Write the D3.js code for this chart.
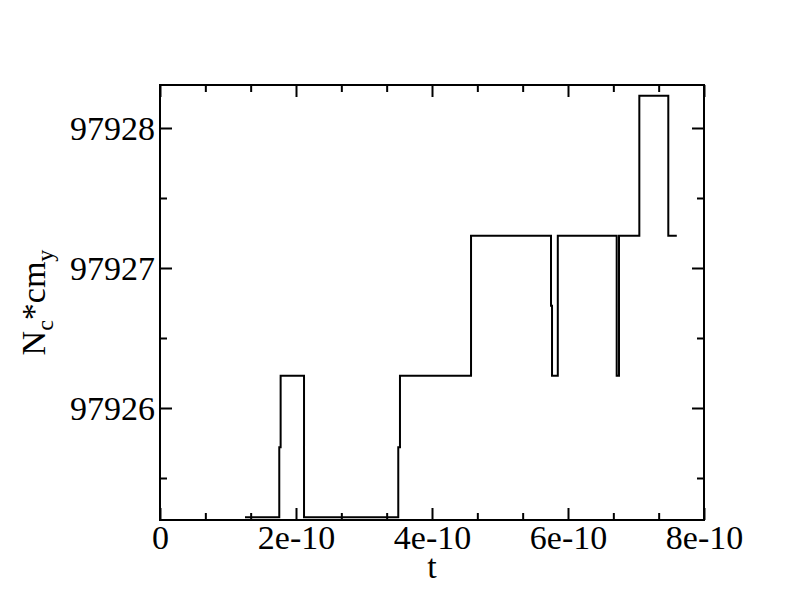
<!DOCTYPE html>
<html>
<head>
<meta charset="utf-8">
<script src="https://cdn.jsdelivr.net/npm/d3@7"></script>
<style>
  html, body { margin: 0; padding: 0; background: #fff; }
  svg { display: block; }
  svg text { font-family: "Liberation Serif", "Times New Roman", Times, serif; fill: #000; }
</style>
</head>
<body>
<script>
// ---- data ----
const tValues = [1.25e-10, 1.754e-10, 1.754e-10, 1.774e-10, 1.774e-10, 2.118e-10, 2.118e-10,
  3.504e-10, 3.504e-10, 3.529e-10, 3.529e-10, 4.574e-10, 4.574e-10, 5.75e-10, 5.75e-10,
  5.765e-10, 5.765e-10, 5.85e-10, 5.85e-10, 6.716e-10, 6.716e-10, 6.75e-10, 6.75e-10,
  7.049e-10, 7.049e-10, 7.475e-10, 7.475e-10, 7.6e-10];
const ncCmY = [97925.22, 97925.22, 97925.72, 97925.72, 97926.23, 97926.23, 97925.22,
  97925.22, 97925.72, 97925.72, 97926.23, 97926.23, 97927.23, 97927.23, 97926.73,
  97926.73, 97926.23, 97926.23, 97927.23, 97927.23, 97926.23, 97926.23, 97927.23,
  97927.23, 97928.23, 97928.23, 97927.23, 97927.23];

const xTicks = [0, 2e-10, 4e-10, 6e-10, 8e-10];
const xTickLabels = ["0", "2e-10", "4e-10", "6e-10", "8e-10"];
const xMinorTicks = [0.6667e-10, 1.3333e-10, 2.6667e-10, 3.3333e-10, 4.6667e-10, 5.3333e-10, 6.6667e-10, 7.3333e-10];
const yTicks = [97926, 97927, 97928];
const yTickLabels = ["97926", "97927", "97928"];
const yMinorTicks = [97925.5, 97926.5, 97927.5];
const xDomain = [0, 8e-10];
const yDomain = [97925.2, 97928.3071];

(function () {
// ---- layout ----
const W = 792, H = 612;
const pL = 160, pR = 704, pT = 85, pB = 520;
const fontSize = 34;
const serif = '"Liberation Serif", "Times New Roman", Times, serif';

const svg = d3.select("body").append("svg").attr("width", W).attr("height", H)
  .attr("font-family", serif);

const x = d3.scaleLinear().domain(xDomain).range([pL, pR]);
const y = d3.scaleLinear().domain(yDomain).range([pB, pT]);

const major = 12, minor = 7;

function styleAxis(g) {
  g.attr("font-family", serif);
  g.select(".domain").remove();
  g.selectAll(".tick line").attr("stroke", "#000").attr("stroke-width", 2);
}

// bottom axis (major, with labels)
const gxb = svg.append("g").attr("transform", `translate(0,${pB})`)
  .call(d3.axisBottom(x).tickValues(xTicks).tickSizeInner(-major).tickSizeOuter(0)
    .tickPadding(8).tickFormat((d, i) => xTickLabels[i]));
styleAxis(gxb);
gxb.selectAll(".tick text").attr("font-size", fontSize)
  .attr("y", 29).attr("dy", 0);
const gxbm = svg.append("g").attr("transform", `translate(0,${pB})`)
  .call(d3.axisBottom(x).tickValues(xMinorTicks).tickSizeInner(-minor).tickSizeOuter(0).tickFormat(""));
styleAxis(gxbm);
const gxt = svg.append("g").attr("transform", `translate(0,${pT})`)
  .call(d3.axisTop(x).tickValues(xTicks).tickSizeInner(-major).tickSizeOuter(0).tickFormat(""));
styleAxis(gxt);
const gxtm = svg.append("g").attr("transform", `translate(0,${pT})`)
  .call(d3.axisTop(x).tickValues(xMinorTicks).tickSizeInner(-minor).tickSizeOuter(0).tickFormat(""));
styleAxis(gxtm);

// left axis
const gyl = svg.append("g").attr("transform", `translate(${pL},0)`)
  .call(d3.axisLeft(y).tickValues(yTicks).tickSizeInner(-major).tickSizeOuter(0)
    .tickPadding(5).tickFormat((d, i) => yTickLabels[i]));
styleAxis(gyl);
gyl.selectAll(".tick text").attr("font-size", fontSize)
  .attr("x", -5).attr("dy", "0.33em");
const gylm = svg.append("g").attr("transform", `translate(${pL},0)`)
  .call(d3.axisLeft(y).tickValues(yMinorTicks).tickSizeInner(-minor).tickSizeOuter(0).tickFormat(""));
styleAxis(gylm);
const gyr = svg.append("g").attr("transform", `translate(${pR},0)`)
  .call(d3.axisRight(y).tickValues(yTicks).tickSizeInner(-major).tickSizeOuter(0).tickFormat(""));
styleAxis(gyr);
const gyrm = svg.append("g").attr("transform", `translate(${pR},0)`)
  .call(d3.axisRight(y).tickValues(yMinorTicks).tickSizeInner(-minor).tickSizeOuter(0).tickFormat(""));
styleAxis(gyrm);

// frame
svg.append("rect").attr("x", pL).attr("y", pT)
  .attr("width", pR - pL).attr("height", pB - pT)
  .attr("fill", "none").attr("stroke", "#000").attr("stroke-width", 2);

// data line
const pts = tValues.map((t, i) => [t, ncCmY[i]]);
svg.append("path").datum(pts)
  .attr("fill", "none").attr("stroke", "#000").attr("stroke-width", 2)
  .attr("stroke-linejoin", "miter")
  .attr("d", d3.line().x(d => x(d[0])).y(d => y(d[1])));

// axis titles
svg.append("text").attr("x", (pL + pR) / 2).attr("y", 578)
  .attr("text-anchor", "middle").attr("font-size", fontSize).text("t");

const yl = svg.append("text")
  .attr("transform", `translate(45,${(pT + pB) / 2}) rotate(-90)`)
  .attr("text-anchor", "middle").attr("font-size", fontSize);
yl.append("tspan").text("N");
yl.append("tspan").attr("font-size", 24).attr("dy", 8).text("c");
yl.append("tspan").attr("dy", -8).text("*cm");
yl.append("tspan").attr("font-size", 24).attr("dy", 8).text("y");
})();
</script>
</body>
</html>
